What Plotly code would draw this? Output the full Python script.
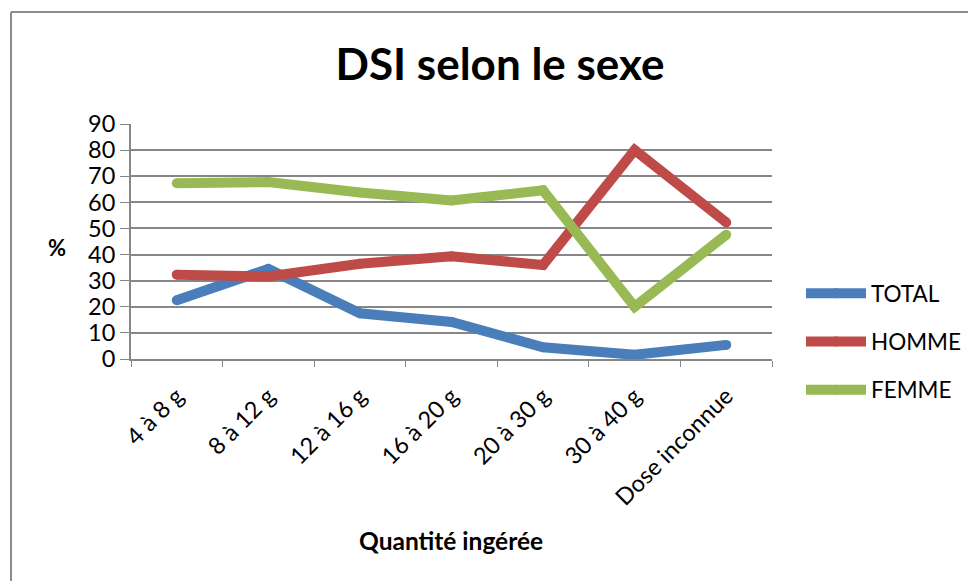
import plotly.graph_objects as go

categories = ["4 à 8 g", "8 à 12 g", "12 à 16 g", "16 à 20 g", "20 à 30 g", "30 à 40 g", "Dose inconnue"]
total = [22.5, 34.5, 17.5, 14.2, 4.5, 1.6, 5.4]
homme = [32.3, 31.6, 36.5, 39.3, 36.0, 80.0, 52.3]
femme = [67.3, 67.8, 63.8, 60.7, 64.6, 20.0, 47.6]
y_ticks = [0, 10, 20, 30, 40, 50, 60, 70, 80, 90]

FONT = "Lato"
OFF = 8  # page body margin
# target pixel geometry of the plot area (in screenshot coordinates)
PL, PR, PT, PB = 131, 772, 124, 359
W, H = 976 - OFF, 581 - OFF
L, T = PL - OFF, PT - OFF
R, B = W - (PR - OFF), H - (PB - OFF)
pw, ph = PR - PL, PB - PT

def px_x(p):
    return (p - PL) / pw

def px_y(p):
    return (PB - p) / ph

fig = go.Figure()
for name, vals, col in [("TOTAL", total, "#4A7EBB"), ("HOMME", homme, "#BE4B48"), ("FEMME", femme, "#98B954")]:
    fig.add_trace(go.Scatter(
        x=categories, y=vals, name=name, mode="lines+markers", legendgroup=name,
        line=dict(color=col, width=10),
        marker=dict(color=col, size=10, line=dict(width=0)),
    ))

fig.update_layout(
    width=W, height=H,
    margin=dict(l=L, r=R, t=T, b=B, autoexpand=False),
    paper_bgcolor="white", plot_bgcolor="white",
    font=dict(family=FONT, color="black", size=22),
    title=dict(text="<b>DSI selon le sexe</b>", x=(500 - OFF) / W, xanchor="center",
               y=1 - (65 - OFF) / H, yanchor="middle", font=dict(family=FONT, size=44, color="black")),
    showlegend=True,
    legend=dict(x=px_x(801), xanchor="left", y=px_y(272), yanchor="top",
                font=dict(family=FONT, size=22.5), itemwidth=60, tracegroupgap=16,
                traceorder="grouped", bgcolor="rgba(0,0,0,0)"),
)
fig.update_xaxes(
    type="category", tickson="boundaries", ticks="outside", ticklen=6, tickcolor="#868686",
    showline=True, linecolor="#868686", linewidth=2, showgrid=False,
    tickangle=-45, tickfont=dict(family=FONT, size=23.5, color="black"),
    ticklabelstandoff=12,
    range=[-0.5, len(categories) - 0.5],
)
fig.update_yaxes(
    range=[0, 90], tickvals=y_ticks, ticktext=[str(v) for v in y_ticks],
    ticks="outside", ticklen=9, tickcolor="#868686",
    showline=True, linecolor="#868686", linewidth=2,
    showgrid=True, gridcolor="#868686", gridwidth=2, zeroline=False,
    tickfont=dict(family=FONT, size=23.5, color="black"),
)
fig.add_annotation(text="<b>%</b>", xref="paper", yref="paper", x=px_x(57), y=px_y(247),
                   xanchor="center", yanchor="middle",
                   showarrow=False, font=dict(family=FONT, size=22, color="black"))
fig.add_annotation(text="<b>Quantité ingérée</b>", xref="paper", yref="paper", x=px_x(451), y=px_y(540),
                   xanchor="center", yanchor="middle",
                   showarrow=False, font=dict(family=FONT, size=24.5, color="black"))
# chart frame (left and top edges)
fig.add_shape(type="line", xref="paper", yref="paper", x0=px_x(11), x1=px_x(11), y0=px_y(12), y1=px_y(600),
              line=dict(color="#8C8C8C", width=2))
fig.add_shape(type="line", xref="paper", yref="paper", x0=px_x(11), x1=px_x(1000), y0=px_y(12), y1=px_y(12),
              line=dict(color="#8C8C8C", width=2))

fig.write_html("out.html")
